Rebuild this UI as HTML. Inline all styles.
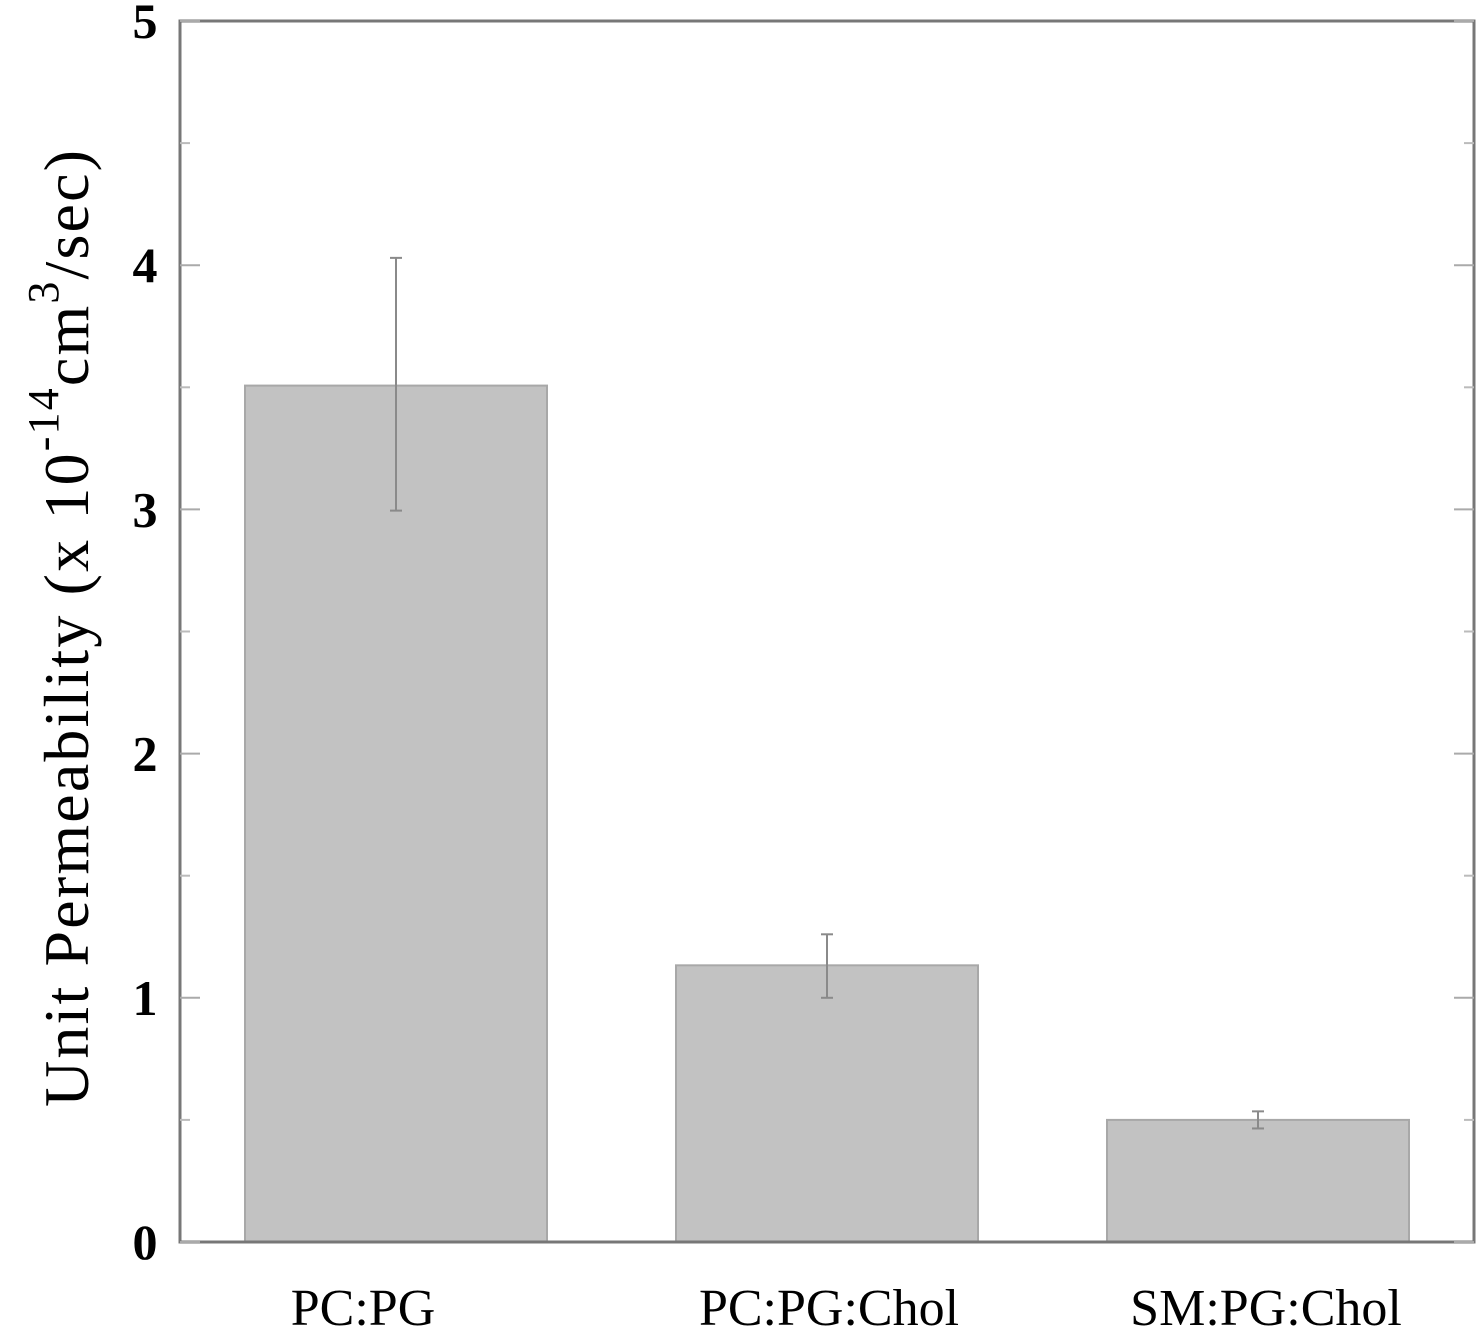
<!DOCTYPE html>
<html><head><meta charset="utf-8"><style>
html,body{margin:0;padding:0;background:#fff;}
svg{display:block;}
text{font-family:"Liberation Serif",serif;fill:#000;}
</style></head><body>
<svg id="chart" width="1484" height="1336" viewBox="0 0 1484 1336" xmlns="http://www.w3.org/2000/svg"></svg>
<script>
const categories = ["PC:PG", "PC:PG:Chol", "SM:PG:Chol"];
const values = [3.507, 1.133, 0.50];
const errLow = [2.995, 1.0, 0.465];
const errHigh = [4.03, 1.26, 0.535];
const yTicks = [0, 1, 2, 3, 4, 5];
const yMinorTicks = [0.5, 1.5, 2.5, 3.5, 4.5];

const L = 180, R = 1474, T = 21, B = 1242;
const yMax = 5;
const NS = "http://www.w3.org/2000/svg";
const svg = document.getElementById('chart');
function y(v){ return B - (v / yMax) * (B - T); }
const slotW = 431, barW = 302, firstCenter = 396;
function xc(i){ return firstCenter + i * slotW; }
const labelShift = [-33, 2, 8];
function mk(tag, attrs, parent){
  const e = document.createElementNS(NS, tag);
  for (const k in attrs) e.setAttribute(k, attrs[k]);
  (parent || svg).appendChild(e);
  return e;
}

categories.forEach((c, i) => {
  const b = mk('rect', {x: xc(i) - barW/2, y: y(values[i]), width: barW, height: B - y(values[i]), fill: '#c2c2c2', stroke: '#a8a8a8', 'stroke-width': 2});
  
  
  const g = mk('g', {stroke: '#8a8a8a', 'stroke-width': 2, fill: 'none'});
  
  
  mk('line', {x1: xc(i), x2: xc(i), y1: y(errLow[i]), y2: y(errHigh[i])}, g);
  mk('line', {x1: xc(i) - 6, x2: xc(i) + 6, y1: y(errLow[i]), y2: y(errLow[i])}, g);
  mk('line', {x1: xc(i) - 6, x2: xc(i) + 6, y1: y(errHigh[i]), y2: y(errHigh[i])}, g);
  const t = mk('text', {x: xc(i) + labelShift[i], y: 1325, 'text-anchor': 'middle', 'font-size': 52});
  t.textContent = c;
  
  
});

const frame = mk('rect', {x: L, y: T, width: R - L, height: B - T, fill: 'none', stroke: '#777', 'stroke-width': 3});



yTicks.forEach(v => {
  mk('line', {x1: L, x2: L + 20, y1: y(v), y2: y(v), stroke: '#aaa', 'stroke-width': 2});
  mk('line', {x1: R - 20, x2: R, y1: y(v), y2: y(v), stroke: '#aaa', 'stroke-width': 2});
  const t = mk('text', {x: 145, y: y(v) + 17, 'text-anchor': 'middle', 'font-size': 50, 'font-weight': 'bold'});
  t.textContent = v;
  
  
});
yMinorTicks.forEach(v => {
  mk('line', {x1: L, x2: L + 10, y1: y(v), y2: y(v), stroke: '#bbb', 'stroke-width': 2});
  mk('line', {x1: R - 10, x2: R, y1: y(v), y2: y(v), stroke: '#bbb', 'stroke-width': 2});
});

const yt = mk('text', {x: 0, y: 0, 'font-size': 64, transform: 'translate(88,1107) rotate(-90)', textLength: 957, lengthAdjust: 'spacing'});


yt.innerHTML = 'Unit Permeability  (x 10<tspan dy="-30" font-size="44">-14</tspan><tspan dy="30">cm</tspan><tspan dy="-30" font-size="44">3</tspan><tspan dy="30">/sec)</tspan>';
</script>
</body></html>
